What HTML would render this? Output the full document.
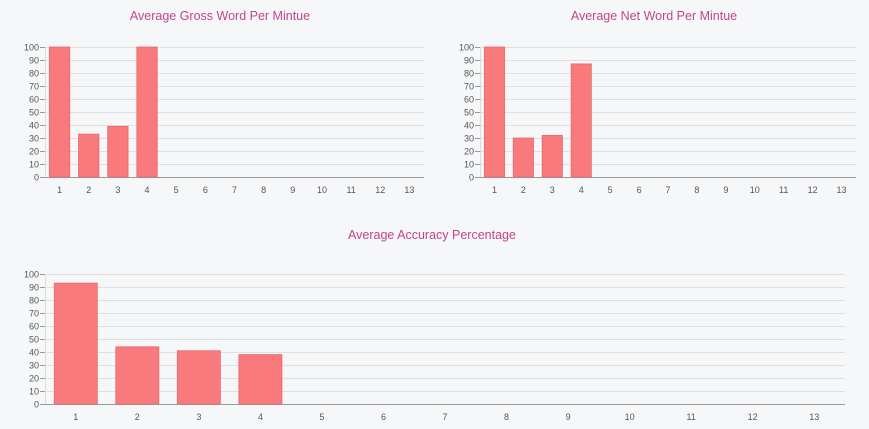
<!DOCTYPE html>
<html><head><meta charset="utf-8">
<style>
html,body{margin:0;padding:0;background:#f6f7f9;}
svg{display:block;font-family:"Liberation Sans",sans-serif;}
</style></head>
<body>
<svg id="chart" width="869" height="429"></svg>
<script>
const categories = ["1","2","3","4","5","6","7","8","9","10","11","12","13"];
const grossValues = [100,33,39,100,0,0,0,0,0,0,0,0,0];
const netValues = [100,30,32,87,0,0,0,0,0,0,0,0,0];
const accuracyValues = [93,44,41,38,0,0,0,0,0,0,0,0,0];
const yTicks = [0,10,20,30,40,50,60,70,80,90,100];
const titles = ["Average Gross Word Per Mintue","Average Net Word Per Mintue","Average Accuracy Percentage"];

const NS="http://www.w3.org/2000/svg";
const svg=document.getElementById('chart');
function mk(tag,attrs,parent){const e=document.createElementNS(NS,tag);for(const k in attrs)e.setAttribute(k,attrs[k]);parent.appendChild(e);return e;}

function drawChart(name,title,values,x0,x1,y0,y1,titleX,titleY){
  const g=mk('g',{},svg);
  
  
  const t=mk('text',{x:titleX,y:titleY,'text-anchor':'middle','font-size':12.5,fill:'#c2458e'},g);
  t.textContent=title;
  
  
  const yS=v=>y1-(v/100)*(y1-y0);
  const bw=(x1-x0)/categories.length;
  const xS=i=>x0+bw*(i+0.5);
  yTicks.forEach(v=>{
    const y=yS(v)+0.5;
    const gl=mk('line',{x1:x0,x2:x1,y1:y,y2:y,stroke:v===0?'#999':'#e0e0e0','stroke-width':1},g);
    
    
    mk('line',{x1:x0-5,x2:x0,y1:y,y2:y,stroke:'#999','stroke-width':1},g);
    const lb=mk('text',{x:x0-6,y:y+3,'text-anchor':'end','font-size':9,fill:'#555'},g);
    lb.textContent=v;
    
    
  });
  mk('line',{x1:x0+0.5,x2:x0+0.5,y1:y0,y2:y1,stroke:'#ddd','stroke-width':1},g);
  categories.forEach((c,i)=>{
    const lb=mk('text',{x:xS(i),y:y1+16,'text-anchor':'middle','font-size':9,fill:'#555'},g);
    lb.textContent=c;
    
    
    const v=values[i];
    if(v>0){
      const w=bw*0.7;
      const r=mk('rect',{x:xS(i)-w/2,y:yS(v),width:w,height:y1-yS(v),fill:'#f87a7c',stroke:'#e76a6c','stroke-width':0.8},g);
      
      
    }
  });
}
drawChart('gross-wpm-chart',titles[0],grossValues,45,424,47,177,220,20);
drawChart('net-wpm-chart',titles[1],netValues,480,856,47,177,654,20);
drawChart('accuracy-chart',titles[2],accuracyValues,45,845,274,404,432,239);
</script>
</body></html>
